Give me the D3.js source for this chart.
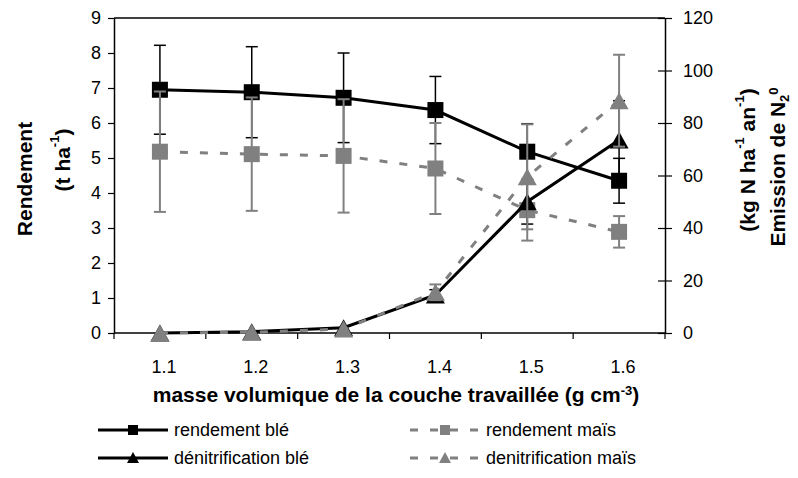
<!DOCTYPE html>
<html>
<head>
<meta charset="utf-8">
<script src="https://cdn.jsdelivr.net/npm/d3@7"></script>
<style>
  body { margin: 0; background: #fff; }
  svg text { font-family: "Liberation Sans", Arial, sans-serif; fill: #000; }
</style>
</head>
<body>
<svg id="chart" width="798" height="478"></svg>
<script>
  // values
  var categories = ['1.1', '1.2', '1.3', '1.4', '1.5', '1.6'];
  var rendementBle = [6.95, 6.88, 6.72, 6.37, 5.18, 4.35];
  var rendementBleErr = [1.27, 1.3, 1.28, 0.96, 0.8, 0.64];
  var rendementMais = [5.18, 5.11, 5.06, 4.7, 3.51, 2.89];
  var rendementMaisErr = [1.72, 1.62, 1.62, 1.3, 0.87, 0.45];
  var denitBle = [0, 0.5, 2, 14.5, 50, 73.5];
  var denitBleErr = [0, 0, 0, 2, 8.5, 15];
  var denitMais = [0, 0.3, 1.5, 15.5, 59.5, 88.5];
  var denitMaisErr = [0, 0, 0, 3, 20, 17.5];
  var leftTicks = [0, 1, 2, 3, 4, 5, 6, 7, 8, 9];
  var rightTicks = [0, 20, 40, 60, 80, 100, 120];

  var grey = '#808080';
  var svg = d3.select('#chart');

  var x = d3.scaleBand().domain(categories).range([114, 665]);
  var yL = d3.scaleLinear().domain([0, 9]).range([333, 18]);
  var yR = d3.scaleLinear().domain([0, 120]).range([333, 18]);
  var cx = function(i) { return x(categories[i]) + x.bandwidth() / 2; };

  var series = [
    {values: rendementBle, err: rendementBleErr, y: yL, color: '#000', dash: null, marker: 'square', errWidth: 1.5},
    {values: rendementMais, err: rendementMaisErr, y: yL, color: grey, dash: '8,12', marker: 'square', errWidth: 2},
    {values: denitBle, err: denitBleErr, y: yR, color: '#000', dash: null, marker: 'triangle', errWidth: 1.5},
    {values: denitMais, err: denitMaisErr, y: yR, color: grey, dash: '8,12', marker: 'triangle', errWidth: 2}
  ];

  // plot frame top
  svg.append('line')
    .attr('x1', 114).attr('x2', 665).attr('y1', 18).attr('y2', 18)
    .attr('stroke', '#000').attr('stroke-width', 1.5);

  // left axis
  var gl = svg.append('g')
    .attr('transform', 'translate(114,0)')
    .call(d3.axisLeft(yL).tickValues(leftTicks).tickSize(6).tickSizeOuter(0).tickPadding(7));

  // right axis, ticks crossing the line
  var gr = svg.append('g')
    .attr('transform', 'translate(665,0)')
    .call(d3.axisRight(yR).tickValues(rightTicks).tickSize(7).tickSizeOuter(0).tickPadding(11));
  gr.selectAll('.tick line').attr('x1', -7);

  [gl, gr].forEach(function(g) {
    g.select('.domain').attr('stroke-width', 1.5);
    g.selectAll('.tick line').attr('stroke-width', 1.2);
    g.selectAll('.tick text').style('font-size', '18px');
  });

  // bottom axis: ticks between categories
  var gx = svg.append('g');
  gx.append('line')
    .attr('x1', 114).attr('x2', 665).attr('y1', 333).attr('y2', 333)
    .attr('stroke', '#000').attr('stroke-width', 1.5);
  var bounds = categories.map(function(c) { return x(c); }).concat([x.range()[1]]);
  gx.selectAll('line.tick').data(bounds).enter().append('line')
    .attr('class', 'tick')
    .attr('x1', function(d) { return d; }).attr('x2', function(d) { return d; })
    .attr('y1', 333).attr('y2', 339)
    .attr('stroke', '#000').attr('stroke-width', 1.2);
  gx.selectAll('text').data(categories).enter().append('text')
    .attr('x', function(d) { return x(d) + x.bandwidth() / 2 + 4; })
    .attr('y', 373)
    .attr('text-anchor', 'middle')
    .style('font-size', '18px')
    .text(function(d) { return d; });

  // series: error bars, line, markers
  series.forEach(function(s) {
    var g = svg.append('g');
    var idx = d3.range(s.values.length);
    var hi = function(i) { return s.y(s.values[i] + s.err[i]); };
    var lo = function(i) { return s.y(s.values[i] - s.err[i]); };

    var bars = g.selectAll('g.err')
      .data(idx.filter(function(i) { return s.err[i] > 0; }))
      .enter().append('g').attr('class', 'err');
    bars.append('line')
      .attr('x1', cx).attr('x2', cx)
      .attr('y1', hi).attr('y2', lo);
    [hi, lo].forEach(function(end) {
      bars.append('line')
        .attr('x1', function(i) { return cx(i) - 6; })
        .attr('x2', function(i) { return cx(i) + 6; })
        .attr('y1', end).attr('y2', end);
    });
    bars.selectAll('line').attr('stroke', s.color).attr('stroke-width', s.errWidth);

    var line = d3.line().x(cx).y(function(i) { return s.y(s.values[i]); });
    g.append('path')
      .attr('d', line(idx))
      .attr('fill', 'none')
      .attr('stroke', s.color)
      .attr('stroke-width', 3)
      .attr('stroke-dasharray', s.dash);

    var marks = g.selectAll('.mark').data(idx).enter();
    if (s.marker === 'square') {
      marks.append('rect')
        .attr('x', function(i) { return cx(i) - 8; })
        .attr('y', function(i) { return s.y(s.values[i]) - 8; })
        .attr('width', 16).attr('height', 16)
        .attr('fill', s.color);
    } else {
      marks.append('path')
        .attr('d', 'M-9.5,8.5L9.5,8.5L0,-8.5Z')
        .attr('transform', function(i) { return 'translate(' + cx(i) + ',' + s.y(s.values[i]) + ')'; })
        .attr('fill', s.color);
    }
  });

  // axis titles
  function rotatedTitle(px, py, parts) {
    var t = svg.append('text')
      .attr('transform', 'translate(' + px + ',' + py + ') rotate(-90)')
      .attr('text-anchor', 'middle')
      .attr('dominant-baseline', 'central')
      .style('font-size', '21px')
      .style('font-weight', 'bold');
    parts.forEach(function(p) {
      var sp = t.append('tspan').text(p.text);
      if (p.shift) sp.attr('baseline-shift', p.shift).style('font-size', '13px');
    });
    return t;
  }

  rotatedTitle(24, 179, [{text: 'Rendement'}]);
  rotatedTitle(62, 160, [{text: '(t ha'}, {text: '-1', shift: 'super'}, {text: ')'}]);
  rotatedTitle(747, 160, [{text: '(kg N ha'}, {text: '-1', shift: 'super'}, {text: ' an'}, {text: '-1', shift: 'super'}, {text: ')'}]);
  rotatedTitle(777, 167, [{text: 'Emission de N'}, {text: '2', shift: 'sub'}, {text: '0', shift: '30%'}]);

  var xt = svg.append('text')
    .attr('x', 396).attr('y', 402)
    .attr('text-anchor', 'middle')
    .style('font-size', '21px')
    .style('font-weight', 'bold');
  xt.append('tspan').text('masse volumique de la couche travaillée (g cm');
  xt.append('tspan').text('-3').attr('baseline-shift', 'super').style('font-size', '13px');
  xt.append('tspan').text(')');

  // legend
  var legend = [
    {label: 'rendement blé', color: '#000', dash: null, marker: 'square', x: 98, y: 430},
    {label: 'rendement maïs', color: grey, dash: '8,12', marker: 'square', x: 410, y: 430},
    {label: 'dénitrification blé', color: '#000', dash: null, marker: 'triangle', x: 98, y: 458},
    {label: 'denitrification maïs', color: grey, dash: '8,12', marker: 'triangle', x: 410, y: 458}
  ];
  var lg = svg.selectAll('g.legend').data(legend).enter().append('g')
    .attr('class', 'legend')
    .attr('transform', function(d) { return 'translate(' + d.x + ',' + d.y + ')'; });
  lg.append('line')
    .attr('x1', 0).attr('x2', 70).attr('y1', 0).attr('y2', 0)
    .attr('stroke', function(d) { return d.color; })
    .attr('stroke-width', 3)
    .attr('stroke-dasharray', function(d) { return d.dash; });
  lg.append('path')
    .attr('d', function(d) {
      return d.marker === 'square' ? 'M30,-5h10v10h-10Z' : 'M29,5L41,5L35,-6Z';
    })
    .attr('fill', function(d) { return d.color; });
  lg.append('text')
    .attr('x', 76).attr('y', 0)
    .attr('dominant-baseline', 'central')
    .style('font-size', '18px')
    .text(function(d) { return d.label; });
</script>
</body>
</html>
